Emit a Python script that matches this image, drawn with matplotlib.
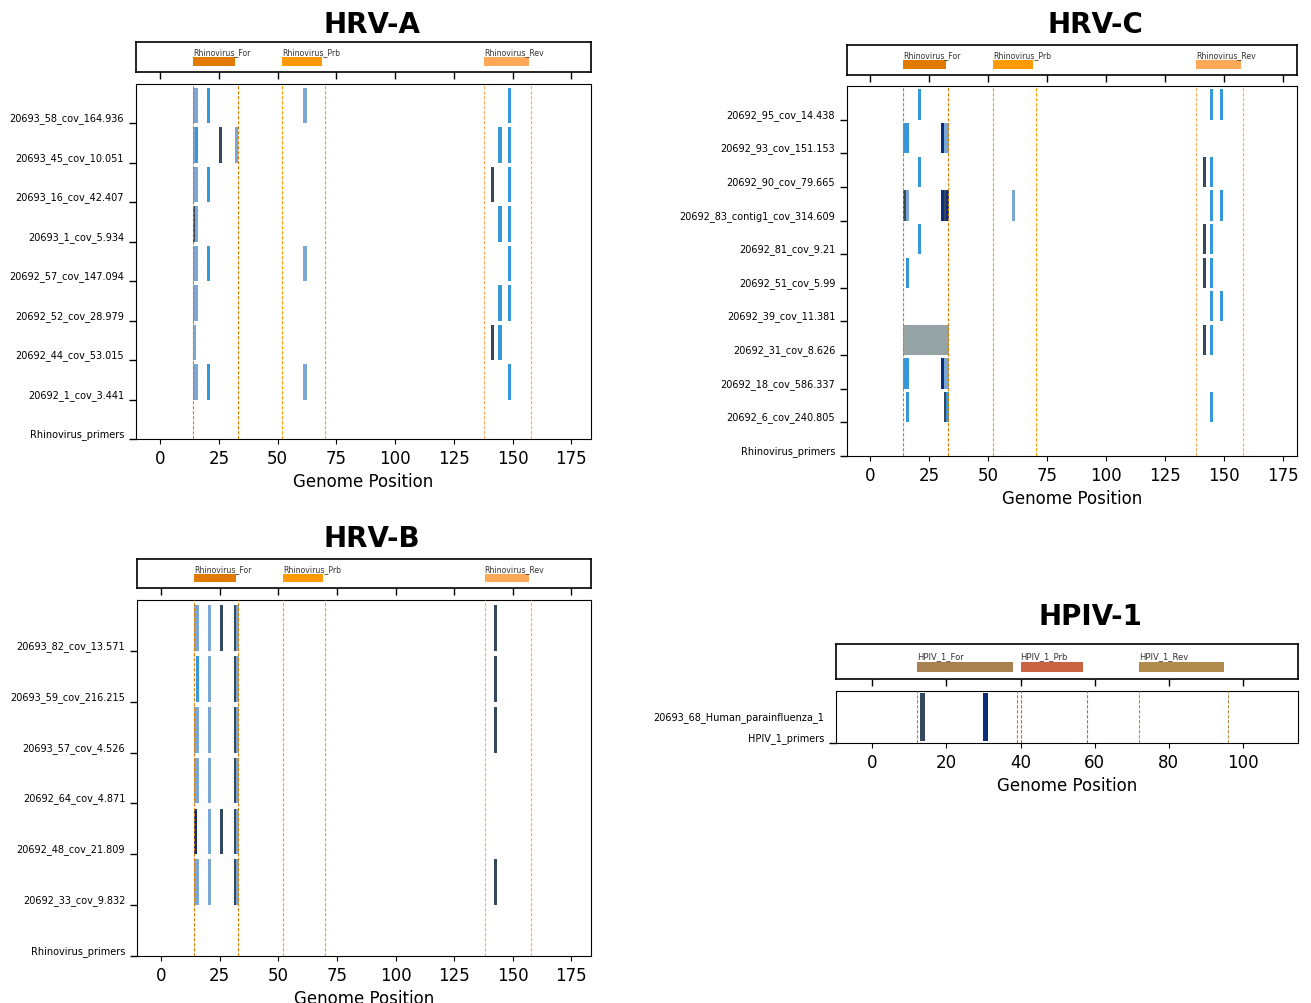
import matplotlib
matplotlib.use("Agg")
import matplotlib.pyplot as plt

W, H = 1311, 1004
fig = plt.figure(figsize=(W / 100, H / 100), dpi=100)

# ---------------- colours for mismatch types ----------------
mm_colors = {"L": "#7ba7d4", "B": "#3498db", "D": "#34495e", "N": "#0b2d7e", "G": "#95a5a6"}

# ---------------- HRV-A ----------------
hrva_samples = ["20693_58_cov_164.936", "20693_45_cov_10.051", "20693_16_cov_42.407",
                "20693_1_cov_5.934", "20692_57_cov_147.094", "20692_52_cov_28.979",
                "20692_44_cov_53.015", "20692_1_cov_3.441"]
hrva_pos = [[14, 15, 20, 61, 148],
            [14, 15, 25, 32, 144, 148],
            [14, 15, 20, 141, 148],
            [14, 15, 144, 148],
            [14, 15, 20, 61, 148],
            [14, 15, 144, 148],
            [14, 141, 144],
            [14, 15, 20, 61, 148]]
hrva_type = [["L", "L", "B", "L", "B"],
             ["L", "B", "D", "L", "B", "B"],
             ["L", "L", "B", "D", "B"],
             ["D", "L", "B", "B"],
             ["L", "L", "B", "L", "B"],
             ["L", "L", "B", "B"],
             ["L", "D", "B"],
             ["L", "L", "B", "L", "B"]]

# ---------------- HRV-C ----------------
hrvc_samples = ["20692_95_cov_14.438", "20692_93_cov_151.153", "20692_90_cov_79.665",
                "20692_83_contig1_cov_314.609", "20692_81_cov_9.21", "20692_51_cov_5.99",
                "20692_39_cov_11.381", "20692_31_cov_8.626", "20692_18_cov_586.337",
                "20692_6_cov_240.805"]
hrvc_pos = [[20, 144, 148],
            [14, 15, 30, 31, 32],
            [20, 141, 144],
            [14, 15, 30, 31, 32, 60, 144, 148],
            [20, 141, 144],
            [15, 141, 144],
            [144, 148],
            [14, 15, 16, 17, 18, 19, 20, 21, 22, 23, 24, 25, 26, 27, 28, 29, 30, 31, 32, 141, 144],
            [14, 15, 30, 31, 32],
            [15, 31, 32, 144]]
hrvc_type = [["B", "B", "B"],
             ["B", "B", "N", "L", "L"],
             ["B", "D", "B"],
             ["D", "L", "N", "D", "N", "L", "B", "B"],
             ["B", "D", "B"],
             ["B", "D", "B"],
             ["B", "B"],
             ["G"] * 19 + ["D", "B"],
             ["B", "B", "N", "L", "L"],
             ["B", "D", "B", "B"]]

# ---------------- HRV-B ----------------
hrvb_samples = ["20693_82_cov_13.571", "20693_59_cov_216.215", "20693_57_cov_4.526",
                "20692_64_cov_4.871", "20692_48_cov_21.809", "20692_33_cov_9.832"]
hrvb_pos = [[14, 15, 20, 25, 31, 32, 142],
            [15, 20, 31, 32, 142],
            [14, 15, 20, 31, 32, 142],
            [14, 15, 20, 31, 32],
            [14, 20, 25, 31, 32],
            [14, 15, 20, 31, 32, 142]]
hrvb_type = [["L", "L", "L", "D", "D", "L", "D"],
             ["B", "L", "D", "L", "D"],
             ["L", "L", "L", "D", "L", "D"],
             ["L", "L", "L", "D", "L"],
             ["N", "L", "D", "D", "L"],
             ["L", "L", "L", "D", "L", "D"]]

# ---------------- HPIV-1 ----------------
hpiv_samples = ["20693_68_Human_parainfluenza_1"]
hpiv_pos = [[13, 30]]
hpiv_type = [["D", "N"]]

# ---------------- primers ----------------
rhino_primer_names = ["Rhinovirus_For", "Rhinovirus_Prb", "Rhinovirus_Rev"]
rhino_primer_start = [14, 52, 138]
rhino_primer_end = [33, 70, 158]
rhino_primer_colors = ["#e07b00", "#ff9a05", "#ffa958"]

hpiv_primer_names = ["HPIV_1_For", "HPIV_1_Prb", "HPIV_1_Rev"]
hpiv_primer_start = [12, 40, 72]
hpiv_primer_end = [39, 58, 96]
hpiv_primer_colors = ["#a98050", "#c96443", "#b08b4b"]

rhino_ticks = [0, 25, 50, 75, 100, 125, 150, 175]
hpiv_ticks = [0, 20, 40, 60, 80, 100]


def add_ax(l, t, r, b):
    return fig.add_axes([l / W, 1 - b / H, (r - l) / W, (b - t) / H])


def panel(title, title_xy, prim_box, main_box, xlim, xticks, samples, pos, typ,
          pnames, pstart, pend, pcolors, primer_label, plab_fs, hpiv=False):
    fig.text(title_xy[0] / W, 1 - title_xy[1] / H, title, ha="center", va="center",
             fontsize=20, fontweight="bold")
    # primer axis
    pax = add_ax(*prim_box)
    for n, s, e, c in zip(pnames, pstart, pend, pcolors):
        pax.bar(s, 0.3, width=e - s - 1, bottom=0.2, align="edge", color=c, linewidth=0)
        pax.text(s, 0.53, n, fontsize=plab_fs, ha="left", va="bottom", color="#333333")
    pax.set_xlim(*xlim)
    pax.set_ylim(0, 1)
    pax.set_xticks(xticks)
    pax.set_xticklabels([])
    pax.set_yticks([])
    pax.tick_params(axis="x", length=5, width=1)
    for sp in pax.spines.values():
        sp.set_linewidth(1.2)

    # main axis
    ax = add_ax(*main_box)
    n = len(samples)
    bw = 1.3 if not hpiv else 1.2
    for i, (plist, tlist) in enumerate(zip(pos, typ)):
        row = n - i
        for p, t in zip(plist, tlist):
            if hpiv:
                ax.bar(p, 0.92, width=bw, bottom=0.045, align="edge",
                       color=mm_colors[t], linewidth=0, zorder=2)
            else:
                ax.bar(p, 0.9, width=bw, bottom=row, align="edge",
                       color=mm_colors[t], linewidth=0, zorder=2)
    for s, e, c in zip(pstart, pend, pcolors):
        for xv in (s, e):
            ax.axvline(xv, color=c, linestyle=(0, (3, 1.5)), linewidth=0.8, zorder=3)
    ax.set_xlim(*xlim)
    ax.set_xticks(xticks)
    ax.tick_params(axis="x", labelsize=12)
    ax.set_xlabel("Genome Position", fontsize=12)
    if hpiv:
        ax.set_ylim(0, 1)
        ax.set_yticks([0, 0.4])
        ax.set_yticklabels([primer_label] + samples, fontsize=7)
        ax.yaxis.get_major_ticks()[1].tick1line.set_visible(False)
    else:
        ax.set_ylim(0, n + 1)
        ax.set_yticks(range(n + 1))
        ax.set_yticklabels([primer_label] + samples[::-1], fontsize=7)
    for lab in ax.get_yticklabels():
        lab.set_va("bottom")
    ax.tick_params(axis="y", length=5, width=1)
    return ax


panel("HRV-A", (372, 25), (136, 43, 591, 73), (136, 85, 591, 440), (-10.3, 183.4),
      rhino_ticks, hrva_samples, hrva_pos, hrva_type, rhino_primer_names,
      rhino_primer_start, rhino_primer_end, rhino_primer_colors, "Rhinovirus_primers", 5.6)

panel("HRV-C", (1095, 25), (847, 46, 1297, 76), (847, 87, 1297, 457), (-9.9, 180.8),
      rhino_ticks, hrvc_samples, hrvc_pos, hrvc_type, rhino_primer_names,
      rhino_primer_start, rhino_primer_end, rhino_primer_colors, "Rhinovirus_primers", 5.6)

panel("HRV-B", (372, 539), (137, 560, 591, 589), (137, 601, 591, 957), (-10.3, 183.4),
      rhino_ticks, hrvb_samples, hrvb_pos, hrvb_type, rhino_primer_names,
      rhino_primer_start, rhino_primer_end, rhino_primer_colors, "Rhinovirus_primers", 5.6)

panel("HPIV-1", (1090, 617), (836, 645, 1298, 680), (836, 692, 1298, 744), (-9.8, 114.9),
      hpiv_ticks, hpiv_samples, hpiv_pos, hpiv_type, hpiv_primer_names,
      hpiv_primer_start, hpiv_primer_end, hpiv_primer_colors, "HPIV_1_primers", 6, hpiv=True)

fig.savefig("out.png", dpi=100)
